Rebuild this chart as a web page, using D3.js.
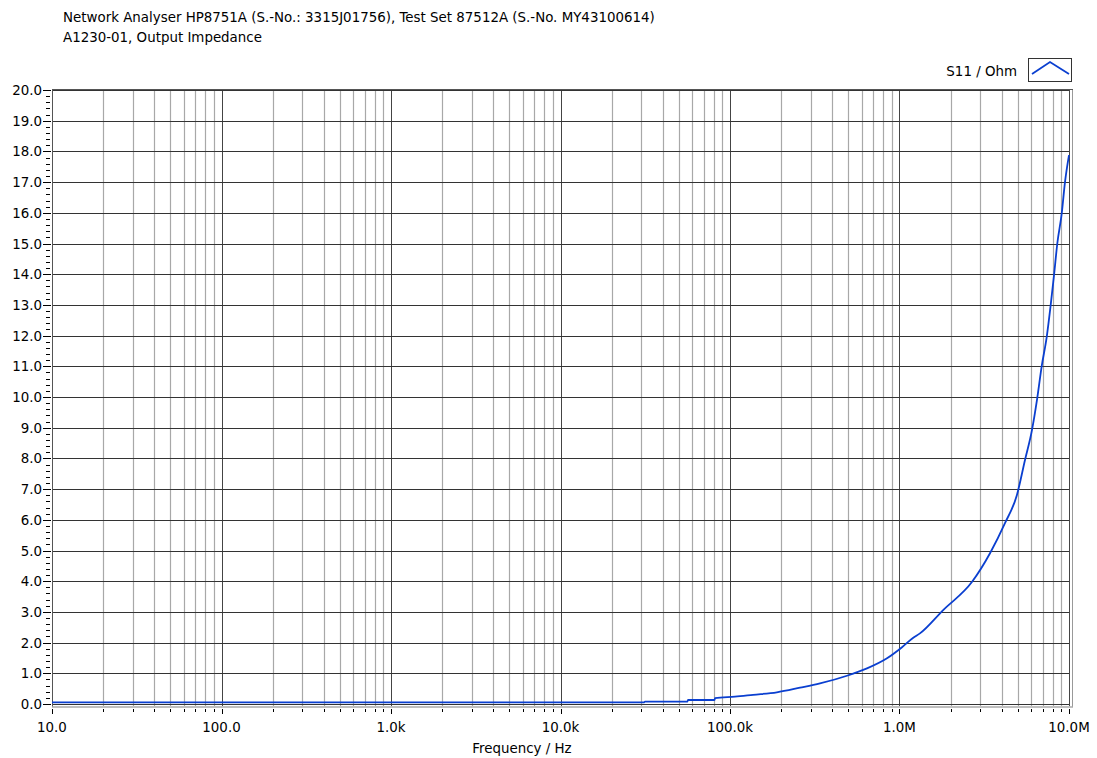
<!DOCTYPE html>
<html><head><meta charset="utf-8">
<script src="https://cdn.jsdelivr.net/npm/d3@7"></script>
<style>body{margin:0;background:#fff}svg{display:block}text{font-family:"DejaVu Sans","Liberation Sans",sans-serif;fill:#000}</style>
</head><body><svg id="c" width="1097" height="758"></svg>
<script>
const titleLines = ["Network Analyser HP8751A (S.-No.: 3315J01756), Test Set 87512A (S.-No. MY43100614)", "A1230-01, Output Impedance"];
const xLabel = "Frequency / Hz";
const seriesName = "S11 / Ohm";
const xTickValues = [10, 100, 1e3, 1e4, 1e5, 1e6, 1e7];
const xTickLabels = ["10.0", "100.0", "1.0k", "10.0k", "100.0k", "1.0M", "10.0M"];
const yTickValues = d3.range(0, 21, 1);
const freq = [10, 1000, 10000, 31000, 31500, 56000, 56500, 81000, 81600, 107000, 136800, 189000, 259000, 339600, 490000, 643000, 844000, 1035000, 1200000, 1320000, 1810000, 2680000, 3420000, 4190000, 4930000, 5500000, 6050000, 6470000, 6900000, 7390000, 7800000, 8160000, 8530000, 9060000, 9470000, 10000000];
const ohm  = [0.05, 0.05, 0.05, 0.05, 0.075, 0.075, 0.13, 0.13, 0.19, 0.24, 0.30, 0.38, 0.53, 0.67, 0.92, 1.16, 1.49, 1.85, 2.15, 2.30, 3.06, 3.98, 4.91, 5.89, 6.81, 7.95, 8.93, 9.9, 11.0, 11.96, 13.0, 13.97, 15.0, 15.98, 17.0, 17.88];

const svg = d3.select("#c");
const L = 52, R = 1069, T = 90, B = 704;
const FS = 13.4;
const x = d3.scaleLog().domain([10, 1e7]).range([L, R]);
const y = d3.scaleLinear().domain([0, 20]).range([B, T]);

// titles
svg.selectAll("text.title").data(titleLines).join("text")
  .attr("x", 63).attr("y", (d, i) => 22 + i * 20).attr("font-size", FS).text(d => d);

// minor vertical grid
const minorX = [];
for (let e = 1; e < 7; e++) for (let m = 2; m <= 9; m++) minorX.push(m * Math.pow(10, e));
svg.append("g").selectAll("line").data(minorX).join("line")
  .attr("x1", d => Math.round(x(d)) + 0.5).attr("x2", d => Math.round(x(d)) + 0.5)
  .attr("y1", T).attr("y2", B + 2).attr("stroke", "#a8a8a8").attr("stroke-width", 1.2);
// major vertical grid
svg.append("g").selectAll("line").data(xTickValues).join("line")
  .attr("x1", d => Math.round(x(d)) + 0.5).attr("x2", d => Math.round(x(d)) + 0.5)
  .attr("y1", T).attr("y2", B + 2).attr("stroke", "#444").attr("stroke-width", 1);
// horizontal grid
svg.append("g").selectAll("line").data(yTickValues).join("line")
  .attr("x1", L).attr("x2", R)
  .attr("y1", d => Math.round(y(d)) + 0.5).attr("y2", d => Math.round(y(d)) + 0.5)
  .attr("stroke", "#333").attr("stroke-width", 1);

// frame
svg.append("line").attr("x1", L + 0.5).attr("x2", L + 0.5).attr("y1", T).attr("y2", B + 3).attr("stroke", "#555");
svg.append("line").attr("x1", R + 3.5).attr("x2", R + 3.5).attr("y1", T).attr("y2", B + 3).attr("stroke", "#999");
svg.append("line").attr("x1", L).attr("x2", R + 4).attr("y1", T - 0.5).attr("y2", T - 0.5).attr("stroke", "#555");
svg.append("line").attr("x1", L).attr("x2", R + 4).attr("y1", B + 3).attr("y2", B + 3).attr("stroke", "#aaa").attr("stroke-width", 1.5);

// y axis ticks & labels
const yMinor = d3.range(0, 100).map(i => i * 0.2).filter(v => Math.abs(v - Math.round(v)) > 1e-6 && v < 20);
svg.append("g").selectAll("line").data(yMinor).join("line")
  .attr("x1", 46).attr("x2", 50).attr("y1", d => Math.round(y(d)) + 0.5).attr("y2", d => Math.round(y(d)) + 0.5)
  .attr("stroke", "#000");
svg.append("g").selectAll("line").data(yTickValues).join("line")
  .attr("x1", 43).attr("x2", 51).attr("y1", d => Math.round(y(d)) + 0.5).attr("y2", d => Math.round(y(d)) + 0.5)
  .attr("stroke", "#000");
svg.append("g").selectAll("text").data(yTickValues).join("text")
  .attr("x", 42).attr("y", d => y(d) + 5).attr("text-anchor", "end").attr("font-size", FS)
  .text(d => d.toFixed(1));

// x axis ticks & labels
svg.append("g").selectAll("line").data(minorX).join("line")
  .attr("x1", d => Math.round(x(d)) + 0.5).attr("x2", d => Math.round(x(d)) + 0.5)
  .attr("y1", B + 5).attr("y2", B + 8).attr("stroke", "#000");
svg.append("g").selectAll("line").data(xTickValues).join("line")
  .attr("x1", d => Math.round(x(d)) + 0.5).attr("x2", d => Math.round(x(d)) + 0.5)
  .attr("y1", B + 5).attr("y2", B + 10).attr("stroke", "#000");
svg.append("g").selectAll("text").data(xTickValues).join("text")
  .attr("x", d => x(d)).attr("y", B + 28).attr("text-anchor", "middle").attr("font-size", FS)
  .text((d, i) => xTickLabels[i]);
svg.append("text").attr("x", 522).attr("y", 753).attr("text-anchor", "middle").attr("font-size", FS).text(xLabel);

// data line
const pts = freq.map((f, i) => [f, ohm[i]]);
svg.append("path").datum(pts)
  .attr("d", d3.line().curve(d3.curveMonotoneX).x(d => x(d[0])).y(d => y(d[1])))
  .attr("fill", "none").attr("stroke", "#0a3fd0").attr("stroke-width", 1.8);

// legend
svg.append("text").attr("x", 1017).attr("y", 76).attr("text-anchor", "end").attr("font-size", FS).text(seriesName);
svg.append("rect").attr("x", 1028.5).attr("y", 58.5).attr("width", 43).attr("height", 23)
  .attr("fill", "#fff").attr("stroke", "#333");
svg.append("path").attr("d", "M1032,74 L1050,62 L1069,74").attr("fill", "none").attr("stroke", "#0a3fd0").attr("stroke-width", 1.8);
</script></body></html>
